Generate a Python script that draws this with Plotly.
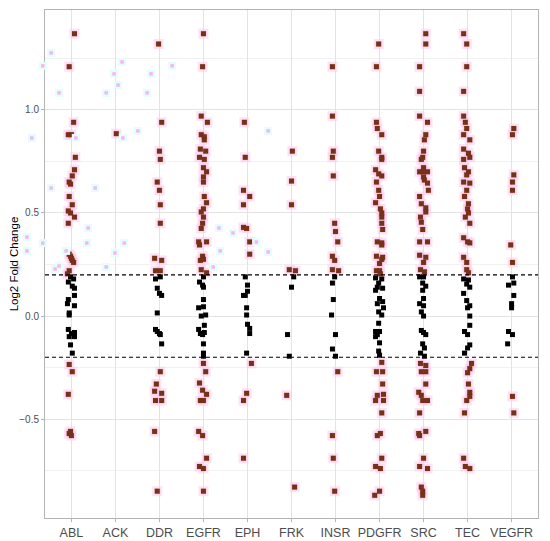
import plotly.graph_objects as go

# kinase families on the x axis
kinases = ["ABL", "ACK", "DDR", "EGFR", "EPH", "FRK", "INSR", "PDGFR", "SRC", "TEC", "VEGFR"]

# (log2 fold change, jitter)
abl = [(1.37, 0.07), (1.21, -0.05), (0.94, 0.05), (0.88, -0.07), (0.88, 0.0), (0.77, 0.09),
       (0.71, 0.07), (0.68, 0.02), (0.65, -0.05), (0.64, -0.02), (0.58, -0.05), (0.54, 0.02),
       (0.51, -0.07), (0.50, -0.02), (0.48, 0.07), (0.45, -0.07), (0.30, -0.05), (0.29, -0.02),
       (0.28, 0.0), (0.27, 0.02), (0.26, 0.05), (0.22, -0.05), (0.205, -0.09),
       (0.19, -0.02), (0.18, 0.05), (0.165, -0.07), (0.145, 0.02), (0.135, 0.07), (0.10, 0.07),
       (0.08, -0.07), (0.06, -0.09), (0.05, 0.07), (0.015, -0.05), (0.005, -0.05),
       (-0.065, -0.07), (-0.085, 0.0), (-0.08, 0.07), (-0.10, -0.05), (-0.10, 0.07),
       (-0.14, -0.02), (-0.18, 0.02), (-0.235, -0.05), (-0.27, 0.02), (-0.38, -0.07),
       (-0.56, -0.02), (-0.57, -0.05), (-0.58, 0.0)]
ack = [(0.885, 0.02)]
ddr = [(1.32, -0.02), (0.94, 0.05), (0.80, 0.0), (0.76, 0.02), (0.65, -0.05), (0.61, 0.0),
       (0.54, 0.02), (0.45, 0.02), (0.28, -0.11), (0.27, 0.05), (0.22, -0.09), (0.22, 0.02),
       (0.18, -0.09), (0.19, 0.02), (0.135, -0.05), (0.11, 0.0), (0.10, 0.05), (0.015, -0.05),
       (-0.065, -0.09), (-0.075, -0.05), (-0.085, 0.0), (-0.09, 0.02), (-0.135, 0.05),
       (-0.27, 0.02), (-0.33, -0.07), (-0.365, -0.11), (-0.375, 0.05), (-0.41, -0.09),
       (-0.41, 0.05), (-0.56, -0.11), (-0.85, -0.05)]
egfr = [(1.37, 0.0), (1.21, -0.02), (0.97, -0.05), (0.94, 0.09), (0.88, -0.05), (0.87, 0.02),
        (0.855, 0.02), (0.81, -0.07), (0.80, 0.05), (0.77, -0.09), (0.76, 0.02), (0.72, 0.0),
        (0.70, 0.07), (0.675, 0.0), (0.65, 0.0), (0.58, 0.02), (0.55, 0.07), (0.52, 0.0),
        (0.505, -0.05), (0.48, 0.0), (0.45, -0.02), (0.425, -0.05), (0.36, -0.11), (0.36, 0.07),
        (0.345, -0.09), (0.29, -0.02), (0.275, 0.0), (0.27, -0.07), (0.225, -0.05), (0.21, 0.07),
        (0.19, 0.0), (0.165, -0.09), (0.15, -0.02), (0.14, 0.0), (0.08, 0.0), (0.04, -0.11),
        (0.045, 0.0), (0.0, -0.05), (0.005, 0.05), (-0.045, 0.02), (-0.065, -0.11),
        (-0.085, -0.07), (-0.09, -0.02), (-0.08, 0.02), (-0.135, 0.0), (-0.18, 0.0),
        (-0.195, 0.0), (-0.23, 0.0), (-0.27, 0.05), (-0.325, -0.09), (-0.36, -0.02),
        (-0.38, 0.07), (-0.41, -0.07), (-0.41, 0.0), (-0.56, -0.11), (-0.58, -0.02),
        (-0.69, 0.07), (-0.73, -0.09), (-0.74, 0.0), (-0.85, 0.0)]
eph = [(0.94, -0.07), (0.77, -0.05), (0.61, -0.09), (0.58, 0.05), (0.54, -0.09), (0.43, -0.09),
       (0.425, -0.02), (0.36, 0.05), (0.30, 0.05), (0.19, -0.05), (0.15, 0.0), (0.12, 0.0),
       (0.10, -0.09), (0.10, -0.05), (0.04, -0.02), (0.005, -0.02), (-0.04, 0.0), (-0.06, 0.05),
       (-0.085, 0.05), (-0.18, -0.02), (-0.23, 0.09), (-0.375, -0.02), (-0.41, -0.09),
       (-0.69, -0.09)]
frk = [(0.80, 0.02), (0.655, 0.0), (0.54, 0.0), (0.225, -0.05), (0.22, 0.09), (0.19, 0.05),
       (0.14, 0.0), (-0.09, -0.09), (-0.195, -0.05), (-0.385, -0.11), (-0.83, 0.07)]
insr = [(1.21, -0.07), (0.97, -0.07), (0.80, -0.05), (0.77, -0.07), (0.68, -0.05), (0.45, -0.02),
        (0.41, 0.0), (0.36, 0.05), (0.29, -0.07), (0.27, -0.02), (0.225, -0.07), (0.22, 0.07),
        (0.19, -0.02), (0.16, -0.07), (0.08, -0.05), (0.005, -0.09), (-0.09, 0.0),
        (-0.16, -0.07), (-0.195, 0.0), (-0.27, 0.05), (-0.58, -0.07), (-0.69, -0.05),
        (-0.85, -0.02)]
pdgfr = [(1.32, -0.02), (1.21, -0.07), (0.94, -0.07), (0.91, -0.05), (0.88, 0.05), (0.80, -0.02),
         (0.77, 0.05), (0.76, 0.05), (0.71, -0.09), (0.69, -0.02), (0.68, 0.05), (0.65, -0.07),
         (0.61, -0.02), (0.58, 0.0), (0.55, -0.09), (0.52, 0.02), (0.50, 0.05), (0.48, 0.05),
         (0.45, 0.05), (0.42, 0.07), (0.36, -0.05), (0.355, 0.05), (0.345, 0.05), (0.29, -0.07),
         (0.275, 0.05), (0.285, 0.07), (0.255, 0.0), (0.22, -0.07), (0.22, 0.0), (0.205, 0.02),
         (0.185, -0.09), (0.18, 0.05), (0.16, -0.02), (0.14, -0.05), (0.135, 0.07),
         (0.125, -0.09), (0.085, 0.0), (0.07, 0.07), (0.06, -0.05), (0.04, 0.09), (0.02, -0.02),
         (0.005, 0.05), (-0.035, -0.02), (-0.075, -0.09), (-0.075, 0.0), (-0.09, -0.05),
         (-0.10, -0.09), (-0.13, 0.0), (-0.17, -0.02), (-0.19, 0.0), (-0.225, 0.05),
         (-0.27, -0.07), (-0.27, 0.07), (-0.33, 0.07), (-0.385, -0.05), (-0.38, 0.09),
         (-0.41, -0.09), (-0.41, 0.09), (-0.47, 0.05), (-0.58, -0.05), (-0.57, 0.02),
         (-0.69, 0.05), (-0.73, -0.09), (-0.74, 0.02), (-0.87, -0.11), (-0.85, 0.0)]
src = [(1.37, 0.05), (1.32, 0.05), (1.21, -0.09), (1.09, -0.09), (0.97, -0.09), (0.94, 0.09),
       (0.88, 0.05), (0.855, 0.02), (0.80, 0.0), (0.77, -0.02), (0.76, -0.05), (0.72, 0.0),
       (0.70, -0.09), (0.70, -0.02), (0.70, 0.09), (0.675, 0.0), (0.66, 0.02), (0.645, 0.09),
       (0.61, 0.11), (0.58, -0.09), (0.545, -0.05), (0.525, 0.05), (0.505, 0.05), (0.48, -0.07),
       (0.455, -0.05), (0.42, -0.02), (0.36, -0.09), (0.36, 0.09), (0.295, -0.09), (0.285, 0.05),
       (0.26, 0.0), (0.225, -0.07), (0.215, 0.02), (0.19, -0.09), (0.19, 0.0), (0.16, -0.02),
       (0.145, 0.05), (0.125, -0.02), (0.085, 0.0), (0.06, -0.09), (0.05, 0.0), (0.02, -0.05),
       (0.0, 0.0), (-0.07, -0.05), (-0.08, 0.0), (-0.09, 0.05), (-0.135, -0.02), (-0.155, 0.02),
       (-0.18, -0.07), (-0.195, 0.02), (-0.23, -0.07), (-0.24, 0.05), (-0.27, -0.05),
       (-0.27, 0.05), (-0.33, 0.05), (-0.37, -0.11), (-0.385, -0.05), (-0.41, -0.02),
       (-0.41, 0.09), (-0.47, -0.09), (-0.56, 0.05), (-0.57, -0.11), (-0.58, -0.09),
       (-0.69, 0.0), (-0.73, -0.09), (-0.74, 0.09), (-0.83, -0.05), (-0.85, -0.02),
       (-0.87, -0.02)]
tec = [(1.37, -0.09), (1.32, -0.02), (1.21, -0.02), (1.09, -0.09), (0.97, -0.09), (0.94, -0.05),
       (0.91, -0.02), (0.88, -0.09), (0.855, 0.05), (0.81, -0.09), (0.79, 0.02), (0.77, 0.05),
       (0.76, -0.09), (0.72, -0.07), (0.70, 0.02), (0.685, -0.02), (0.65, -0.09), (0.645, 0.05),
       (0.61, -0.02), (0.58, -0.07), (0.545, 0.02), (0.52, 0.0), (0.50, 0.02), (0.48, -0.05),
       (0.45, 0.05), (0.38, -0.09), (0.36, 0.0), (0.355, 0.05), (0.285, -0.09), (0.26, -0.02),
       (0.225, -0.02), (0.21, 0.02), (0.18, -0.09), (0.175, 0.02), (0.155, -0.02), (0.14, 0.05),
       (0.11, -0.09), (0.075, -0.02), (0.05, 0.05), (0.04, 0.0), (0.0, 0.05), (-0.045, 0.05),
       (-0.075, -0.07), (-0.09, 0.0), (-0.14, 0.05), (-0.155, 0.0), (-0.18, -0.07),
       (-0.23, 0.09), (-0.255, 0.05), (-0.275, 0.0), (-0.33, 0.02), (-0.37, 0.05),
       (-0.39, 0.05), (-0.41, -0.02), (-0.47, -0.07), (-0.69, -0.09), (-0.73, -0.05),
       (-0.74, 0.05)]
vegfr = [(0.91, 0.05), (0.88, 0.02), (0.685, 0.05), (0.65, 0.02), (0.61, 0.02), (0.345, -0.02),
         (0.26, 0.02), (0.19, 0.02), (0.16, 0.05), (0.15, -0.07), (0.10, 0.05), (0.06, 0.0),
         (0.04, 0.0), (-0.075, -0.07), (-0.09, 0.02), (-0.135, -0.09), (-0.39, 0.02),
         (-0.47, 0.05)]

# faint ghost specks visible in the left half of the picture (same units as the main axes)
ghost_x = [-0.90, -0.65, -0.46, -0.28, 0.54, 0.79, 0.97, 1.06, 1.17, 1.51, 1.72, 1.81,
           2.29, 0.10, -1.01, -0.65, -1.01, -1.21, -0.28, -0.37, 0.38, 0.35, 1.20, 0.79, 0.99,
           -0.12, 3.35, 3.67, 3.38, 4.20, 4.47, 3.22, 4.47, -0.46, 1.15]
ghost_y = [0.864, 1.214, 0.621, 1.083, 0.621, 1.083, 1.175, 1.121, 0.864, 0.898, 1.083,
           1.175, 1.214, 0.864, 0.383, 0.354, 0.316, 0.233, 0.243, 0.228, 0.427, 0.354, 0.354,
           0.238, 0.306, 0.316, 0.427, 0.403, 0.316, 0.359, 0.311, 0.238, 0.898, 1.277, 1.233]

threshold = 0.2
groups = [abl, ack, ddr, egfr, eph, frk, insr, pdgfr, src, tec, vegfr]

sig_x, sig_y, ns_x, ns_y = [], [], [], []
for i, pts in enumerate(groups):
    for fc, jit in pts:
        if abs(fc) > threshold:
            sig_x.append(i + jit)
            sig_y.append(fc)
        else:
            ns_x.append(i + jit)
            ns_y.append(fc)

# the page body has an 8px margin, so the figure is drawn 8px in from the window corner
W, H = 542, 533
PL, PR, PT, PB = 37, 530, 2, 510   # panel box inside the figure
x_rng = [-0.6, 10.6]
y_rng = [-0.98, 1.485]
# full-page axes in the same data units, for the ghost specks outside the panel
xu = (PR - PL) / (x_rng[1] - x_rng[0])
yu = (PB - PT) / (y_rng[1] - y_rng[0])
x2_rng = [x_rng[0] - PL / xu, x_rng[1] + (W - PR) / xu]
y2_rng = [y_rng[0] - (H - PB) / yu, y_rng[1] + PT / yu]

fig = go.Figure()
fig.add_trace(go.Scatter(x=sig_x, y=sig_y, mode="markers",
                         marker=dict(symbol="square", size=10, color="rgba(252,205,240,0.6)"),
                         hoverinfo="skip"))
fig.add_trace(go.Scatter(x=ns_x, y=ns_y, mode="markers",
                         marker=dict(symbol="square", size=5, color="black")))
fig.add_trace(go.Scatter(x=sig_x, y=sig_y, mode="markers",
                         marker=dict(symbol="square", size=5, color="#6f3419",
                                     line=dict(color="rgba(210,20,20,0.3)", width=0.5))))
fig.add_trace(go.Scatter(x=ghost_x, y=ghost_y, mode="markers", xaxis="x2", yaxis="y2",
                         marker=dict(symbol="square", size=8, color="#e4fdfd"), hoverinfo="skip"))
fig.add_trace(go.Scatter(x=ghost_x, y=ghost_y, mode="markers", xaxis="x2", yaxis="y2",
                         marker=dict(symbol="square", size=3.5, color="#fbb4f1"), hoverinfo="skip"))

for yv in (threshold, -threshold):
    fig.add_shape(type="line", xref="x domain", x0=0, x1=1, yref="y", y0=yv, y1=yv,
                  line=dict(color="black", width=1.2, dash="4px,3px"))

axis_common = dict(showline=True, linecolor="#b3b3b3", linewidth=1, mirror=True,
                   ticks="outside", ticklen=3, tickcolor="#b3b3b3", zeroline=False,
                   gridcolor="#e3e3e3", gridwidth=1, automargin=False)

fig.update_layout(
    width=W, height=H,
    margin=dict(l=0, r=0, t=0, b=0),
    plot_bgcolor="rgba(0,0,0,0)", paper_bgcolor="white",
    showlegend=False,
    font=dict(family="Liberation Sans, Arial, sans-serif", color="#4d4d4d"),
    xaxis=dict(range=x_rng, domain=[PL / W, PR / W], tickvals=list(range(len(kinases))),
               ticktext=kinases, tickfont=dict(size=12.5, color="#4d4d4d"), **axis_common),
    yaxis=dict(range=y_rng, domain=[1 - PB / H, 1 - PT / H], tick0=0, dtick=0.5, tickformat=".1f",
               tickfont=dict(size=10, color="#4d4d4d"),
               title=dict(text="Log2 Fold Change", font=dict(size=11.5, color="black"), standoff=8),
               minor=dict(dtick=0.25, showgrid=True, gridcolor="#f1f1f1", ticks=""),
               **axis_common),
    xaxis2=dict(range=x2_rng, domain=[0, 1], visible=False, anchor="y2"),
    yaxis2=dict(range=y2_rng, domain=[0, 1], visible=False, anchor="x2"),
)

fig.write_html("out.html")
